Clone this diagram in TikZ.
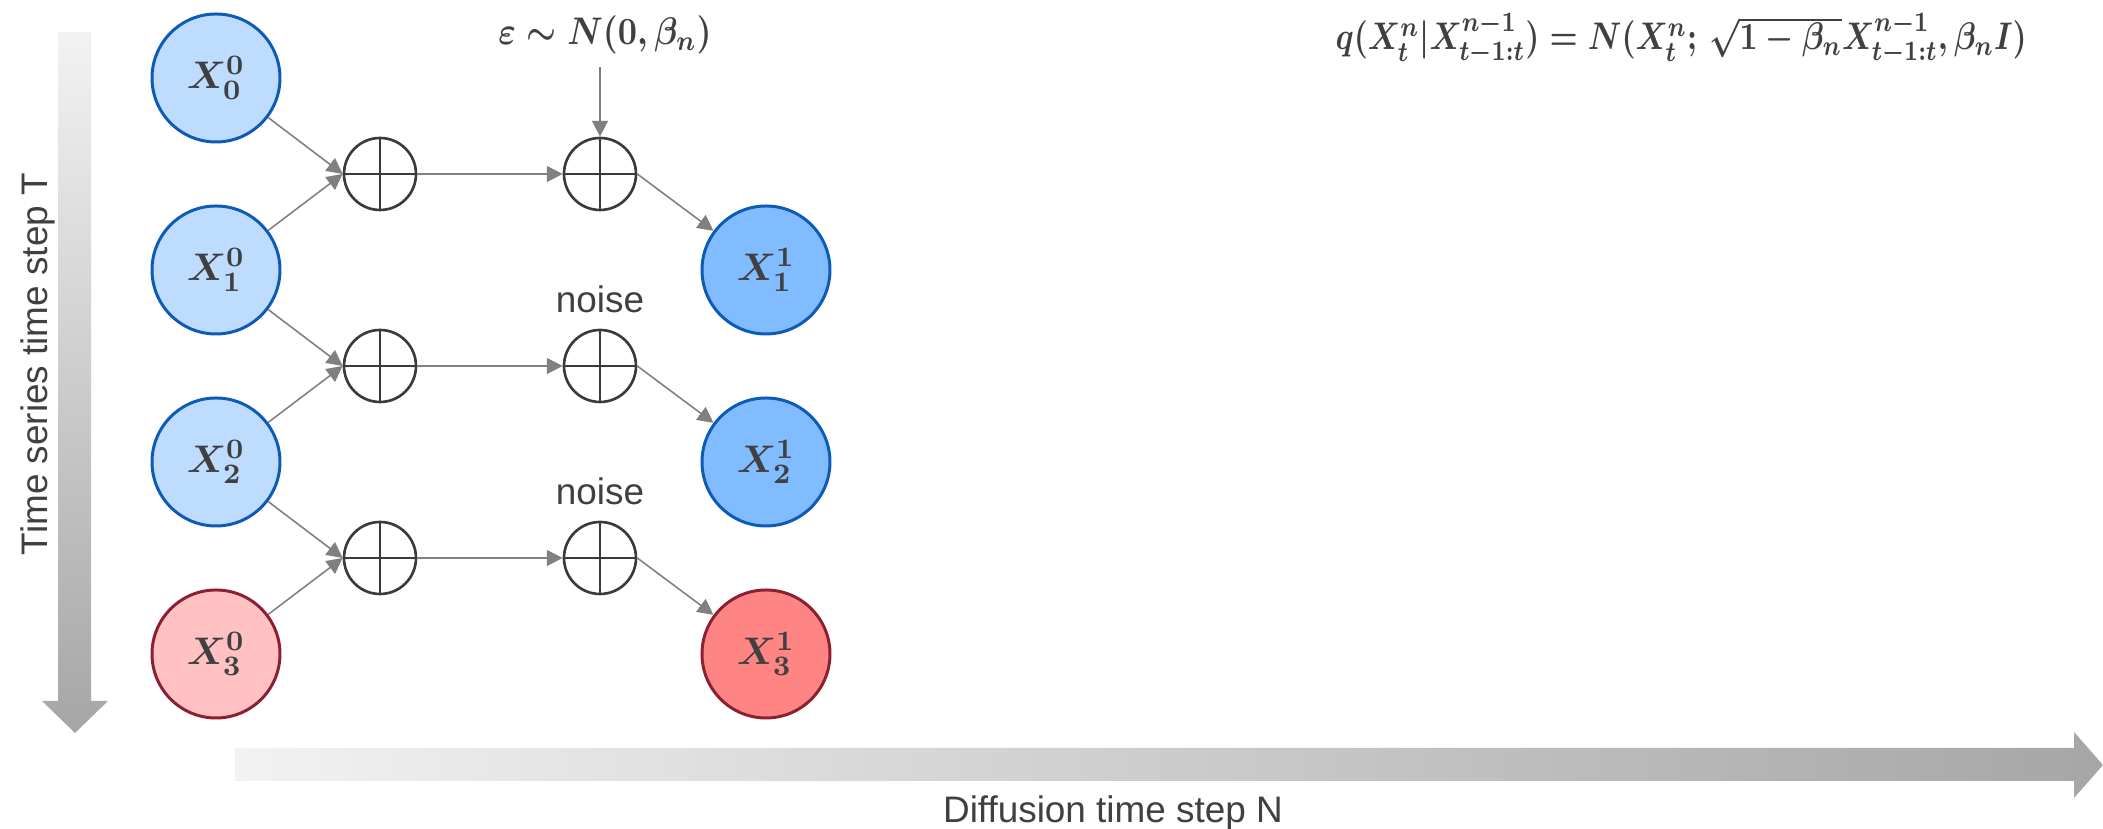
\documentclass[tikz,border=0pt]{standalone}
\usepackage[no-math]{fontspec}
\newfontfamily\lblfont{Liberation Sans}
\usetikzlibrary{arrows.meta}

\definecolor{nodeblue}{RGB}{189,220,254}
\definecolor{nodedeep}{RGB}{128,188,255}
\definecolor{edgeblue}{RGB}{14,90,185}
\definecolor{nodepink}{RGB}{255,193,193}
\definecolor{nodered}{RGB}{255,133,133}
\definecolor{edgered}{RGB}{140,32,50}
\definecolor{plusgray}{RGB}{58,58,58}
\definecolor{linkgray}{RGB}{128,128,128}
\definecolor{textgray}{RGB}{64,64,64}
\definecolor{axisl}{RGB}{242,242,242}
\definecolor{axisd}{RGB}{166,166,166}

\begin{document}
\begin{tikzpicture}[>={Triangle[length=4.5pt,width=4.5pt]}, line join=round,
		txt/.style={text=textgray, font=\lblfont\fontsize{10.5}{12}\selectfont},
		mth/.style={text=textgray, font=\fontsize{10.8}{13}\selectfont\boldmath},
		var/.style={circle, draw=edgeblue, fill=nodeblue, line width=0.85pt, minimum size=1.28cm, inner sep=0pt, mth},
		sum/.style={circle, draw=plusgray, line width=0.75pt, minimum size=0.72cm, inner sep=0pt,
			path picture={\draw[plusgray, line width=0.75pt] (path picture bounding box.north) -- (path picture bounding box.south)
				(path picture bounding box.west) -- (path picture bounding box.east);}},
		link/.style={->, draw=linkgray, line width=0.45pt}]
		\useasboundingbox (0,0) rectangle (21.03,8.29);
		% the two time axes
		\shade[top color=axisl, bottom color=axisd] (0.58,7.97) -- (0.91,7.97) -- (0.91,1.28) -- (1.08,1.28) -- (0.75,0.96) -- (0.42,1.28) -- (0.58,1.28) -- cycle;
		\shade[left color=axisl, right color=axisd] (2.35,0.81) -- (20.74,0.81) -- (20.74,0.97) -- (21.03,0.64) -- (20.74,0.31) -- (20.74,0.48) -- (2.35,0.48) -- cycle;
		\node[txt, rotate=90, anchor=base] (taxis) at (0.47,4.65) {Time series time step T};
		\node[txt, anchor=base] (naxis) at (11.13,0.06) {Diffusion time step N};
		% series at step 0 and step 1
		\node[var] (x00) at (2.16,7.51) {$X^0_0$};
		\node[var] (x10) at (2.16,5.59) {$X^0_1$};
		\node[var] (x20) at (2.16,3.67) {$X^0_2$};
		\node[var, draw=edgered, fill=nodepink] (x30) at (2.16,1.75) {$X^0_3$};
		\node[var, fill=nodedeep] (x11) at (7.66,5.59) {$X^1_1$};
		\node[var, fill=nodedeep] (x21) at (7.66,3.67) {$X^1_2$};
		\node[var, draw=edgered, fill=nodered] (x31) at (7.66,1.75) {$X^1_3$};
		% adders
		\node[sum] (mix1) at (3.80,6.55) {};
		\node[sum] (mix2) at (3.80,4.63) {};
		\node[sum] (mix3) at (3.80,2.71) {};
		\node[sum] (add1) at (6.00,6.55) {};
		\node[sum] (add2) at (6.00,4.63) {};
		\node[sum] (add3) at (6.00,2.71) {};
		% narrow bold formulas
		\coordinate (epos) at (6.05,7.84);
		\coordinate (qpos) at (13.35,7.79);
		\node[mth, xscale=0.87, transform shape, anchor=base] (eps) at (epos) {$\varepsilon\sim N(0,\beta_n)$};
		\node[mth, xscale=0.82, transform shape, anchor=base west, inner sep=0pt] (qform) at (qpos)
			{$q(X^n_t|X^{n-1}_{t-1:t}) = N(X^n_t;\,\sqrt{1-\beta_n}X^{n-1}_{t-1:t},\beta_n I)$};
		\node[txt, anchor=base] (noise2) at (6.00,5.16) {noise};
		\node[txt, anchor=base] (noise3) at (6.00,3.24) {noise};
		% connectors
		\draw[link] (x00) -- (mix1.west);
		\draw[link] (x10) -- (mix1.west);
		\draw[link] (x10) -- (mix2.west);
		\draw[link] (x20) -- (mix2.west);
		\draw[link] (x20) -- (mix3.west);
		\draw[link] (x30) -- (mix3.west);
		\draw[link] (mix1) -- (add1);
		\draw[link] (mix2) -- (add2);
		\draw[link] (mix3) -- (add3);
		\draw[link] (eps.south -| add1.north) -- (add1.north);
		\draw[link] (add1.east) -- (x11);
		\draw[link] (add2.east) -- (x21);
		\draw[link] (add3.east) -- (x31);
	\end{tikzpicture}
\end{document}
